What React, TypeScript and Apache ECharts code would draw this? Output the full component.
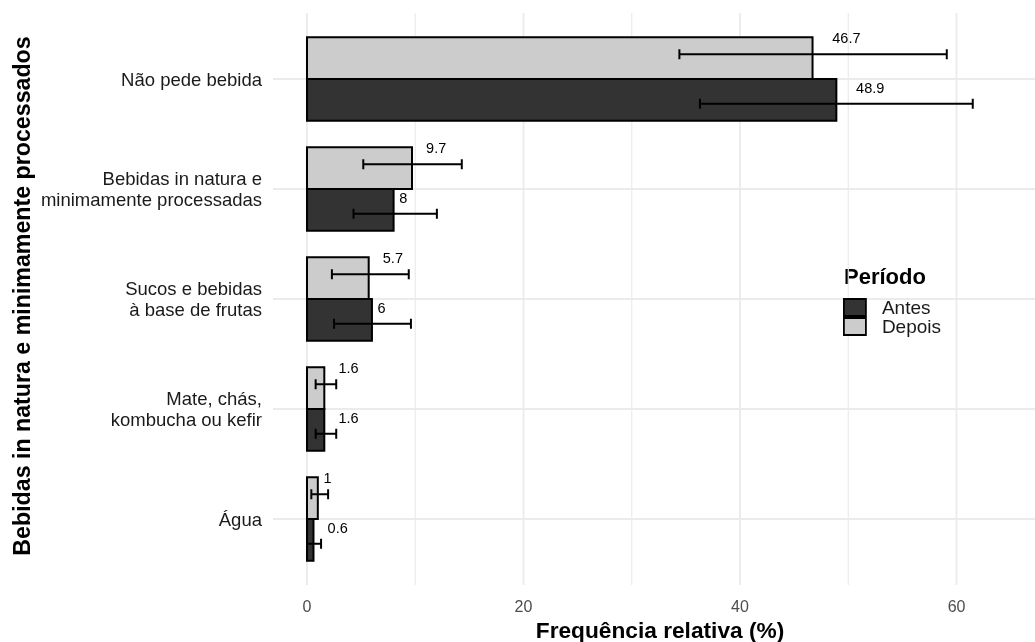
import React, { useEffect, useRef } from 'react';
import * as echarts from 'echarts';

const categories = [
  'Não pede bebida',
  'Bebidas in natura e\nminimamente processadas',
  'Sucos e bebidas\nà base de frutas',
  'Mate, chás,\nkombucha ou kefir',
  'Água',
];
const antes = [48.9, 8, 6, 1.6, 0.6];
const depois = [46.7, 9.7, 5.7, 1.6, 1];
const antesLow = [36.3, 4.3, 2.5, 0.8, 0];
const antesHigh = [61.5, 12.0, 9.6, 2.7, 1.3];
const depoisLow = [34.4, 5.2, 2.3, 0.8, 0.4];
const depoisHigh = [59.1, 14.3, 9.4, 2.7, 1.95];
const xTicks = [0, 20, 40, 60];
const xMinor = [10, 30, 50];

const X_MIN = -3.14;
const X_MAX = 67.25;
const Y_MIN = -0.6;
const Y_MAX = 4.6;
const FONT = 'Liberation Sans, Arial, sans-serif';
const BAR_HALF = 0.19;
const ERR_OFF = 0.225;
const LABEL_FS = 14.5;

function estWidth(s: string, fs: number) {
  let w = 0;
  for (const ch of s) w += ch === '.' ? 0.278 : 0.556;
  return w * fs;
}

export default function App() {
  const ref = useRef<HTMLDivElement>(null);
  useEffect(() => {
    if (!ref.current) return;
    const chart = echarts.init(ref.current, undefined, { renderer: 'svg' });

    const barRender = (off: number) => (params: any, api: any) => {
      const v = api.value(0);
      const i = api.value(1);
      const p0 = api.coord([0, i + off - BAR_HALF]);
      const p1 = api.coord([v, i + off + BAR_HALF]);
      return {
        type: 'rect',
        shape: {
          x: p0[0],
          y: Math.min(p0[1], p1[1]),
          width: p1[0] - p0[0],
          height: Math.abs(p1[1] - p0[1]),
        },
        style: { fill: api.visual('color'), stroke: '#000', lineWidth: 2 },
      };
    };

    const errRender = (off: number) => (params: any, api: any) => {
      const i = api.value(1);
      const lo = api.coord([api.value(2), i + off]);
      const hi = api.coord([api.value(3), i + off]);
      const y = lo[1];
      const cap = 5;
      const st = { stroke: '#000', lineWidth: 2 };
      return {
        type: 'group',
        children: [
          { type: 'line', shape: { x1: lo[0], y1: y, x2: hi[0], y2: y }, style: st },
          { type: 'line', shape: { x1: lo[0], y1: y - cap, x2: lo[0], y2: y + cap }, style: st },
          { type: 'line', shape: { x1: hi[0], y1: y - cap, x2: hi[0], y2: y + cap }, style: st },
        ],
      };
    };

    const labelRender = (off: number) => (params: any, api: any) => {
      const v = api.value(0);
      const i = api.value(1);
      const p = api.coord([v, i + off]);
      const txt = String(v);
      const w = estWidth(txt, LABEL_FS);
      return {
        type: 'text',
        x: p[0] + 0.7 * w,
        y: p[1] - 16,
        style: {
          text: txt,
          fill: '#000',
          fontSize: LABEL_FS,
          fontFamily: FONT,
          align: 'left',
          verticalAlign: 'middle',
          textAlign: 'left',
          textVerticalAlign: 'middle',
        },
      };
    };

    const gridLine = (params: any, api: any) => {
      const kind = api.value(0);
      const v = api.value(1);
      let a, b;
      if (kind === 0 || kind === 1) {
        a = api.coord([v, Y_MIN]);
        b = api.coord([v, Y_MAX]);
      } else {
        a = api.coord([X_MIN, v]);
        b = api.coord([X_MAX, v]);
      }
      return {
        type: 'line',
        shape: { x1: a[0], y1: a[1], x2: b[0], y2: b[1] },
        style: { stroke: '#ebebeb', lineWidth: kind === 1 ? 1.2 : 1.8 },
      };
    };

    const gridData = [
      ...xTicks.map((v) => [0, v]),
      ...xMinor.map((v) => [1, v]),
      ...categories.map((_, i) => [2, i]),
    ];

    const antesData = antes.map((v, i) => [v, i, antesLow[i], antesHigh[i]]);
    const depoisData = depois.map((v, i) => [v, i, depoisLow[i], depoisHigh[i]]);

    chart.setOption({
      animation: false,
      textStyle: { fontFamily: FONT },
      grid: { left: 273, right: 0, top: 13, bottom: 57, containLabel: false },
      xAxis: {
        type: 'value',
        min: X_MIN,
        max: X_MAX,
        axisLine: { show: false },
        axisTick: { show: false },
        splitLine: { show: false },
        axisLabel: {
          customValues: xTicks,
          fontSize: 16,
          color: '#4d4d4d',
          margin: 13,
          fontFamily: FONT,
        },
      },
      yAxis: {
        type: 'value',
        min: Y_MIN,
        max: Y_MAX,
        inverse: true,
        axisLine: { show: false },
        axisTick: { show: false },
        splitLine: { show: false },
        axisLabel: {
          customValues: [0, 1, 2, 3, 4],
          formatter: (v: number) => categories[Math.round(v)] ?? '',
          fontSize: 18.5,
          lineHeight: 21,
          color: '#1a1a1a',
          margin: 11,
          align: 'right',
          fontFamily: FONT,
        },
      },
      legend: {
        orient: 'vertical',
        left: 843,
        top: 298,
        padding: 0,
        itemWidth: 22,
        itemHeight: 17,
        itemGap: 0,
        selectedMode: false,
        data: [
          { name: 'Antes', icon: 'rect', itemStyle: { color: '#333333', borderColor: '#000', borderWidth: 1.8 } },
          { name: 'Depois', icon: 'rect', itemStyle: { color: '#cccccc', borderColor: '#000', borderWidth: 1.8 } },
        ],
        textStyle: { fontSize: 19, color: '#1a1a1a', padding: [0, 0, 0, 11], lineHeight: 17, fontFamily: FONT },
      },
      graphic: [
        {
          type: 'text',
          left: 844,
          top: 265,
          style: { text: 'Período', fontSize: 22, fontWeight: 'bold', fill: '#000', fontFamily: FONT },
        },
        {
          type: 'text',
          x: 660,
          y: 630,
          style: {
            text: 'Frequência relativa (%)',
            fontSize: 22.7,
            fontWeight: 'bold',
            fill: '#000',
            fontFamily: FONT,
            textAlign: 'center',
            textVerticalAlign: 'middle',
          },
        },
        {
          type: 'text',
          x: 22,
          y: 296,
          rotation: Math.PI / 2,
          style: {
            text: 'Bebidas in natura e minimamente processados',
            fontSize: 23.2,
            fontWeight: 'bold',
            fill: '#000',
            fontFamily: FONT,
            textAlign: 'center',
            textVerticalAlign: 'middle',
          },
        },
      ],
      series: [
        { type: 'custom', name: 'grid', silent: true, z: 0, renderItem: gridLine, data: gridData },
        { type: 'custom', name: 'Depois', z: 2, itemStyle: { color: '#cccccc' }, renderItem: barRender(-BAR_HALF), data: depoisData },
        { type: 'custom', name: 'Antes', z: 2, itemStyle: { color: '#333333' }, renderItem: barRender(BAR_HALF), data: antesData },
        { type: 'custom', name: 'errDepois', z: 3, renderItem: errRender(-ERR_OFF), data: depoisData },
        { type: 'custom', name: 'errAntes', z: 3, renderItem: errRender(ERR_OFF), data: antesData },
        { type: 'custom', name: 'lblDepois', z: 4, renderItem: labelRender(-ERR_OFF), data: depoisData },
        { type: 'custom', name: 'lblAntes', z: 4, renderItem: labelRender(ERR_OFF), data: antesData },
      ],
    });
    return () => chart.dispose();
  }, []);
  return <div ref={ref} style={{ position: 'fixed', left: 0, top: 0, width: 1035, height: 642 }} />;
}
